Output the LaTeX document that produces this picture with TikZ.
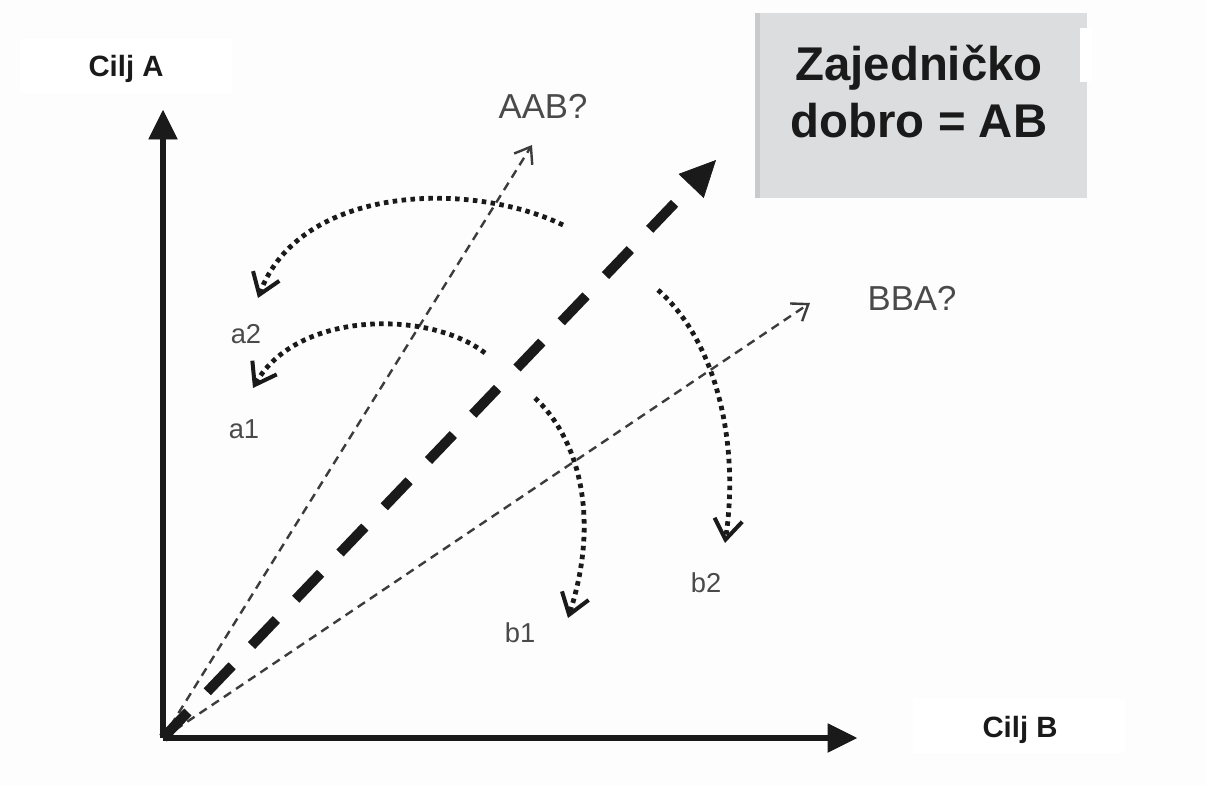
\documentclass[tikz,border=0pt]{standalone}
\usepackage{fontspec}
\setmainfont{Liberation Sans}
\usetikzlibrary{arrows.meta}
\definecolor{bg}{HTML}{FDFDFD}
\definecolor{boxgray}{HTML}{DCDDDF}
\definecolor{boxedge}{HTML}{C9CACC}
\definecolor{ink}{HTML}{1A1A1A}
\definecolor{labgray}{HTML}{4A4A4A}
\tikzset{
  axis/.style={draw=ink, line width=3.8pt, -{Triangle[length=22pt,width=22pt,line width=0.5pt]}},
  mainpath/.style={draw=ink, line width=7.5pt, dash pattern=on 27pt off 21pt, -{Triangle[length=27pt,width=26pt,line width=0.5pt]}},
  thinpath/.style={draw=ink!85, line width=1.8pt, dash pattern=on 6.5pt off 4.5pt, -{Straight Barb[length=11pt,width=16pt]}},
  dotpath/.style={draw=ink, line width=3.6pt, dash pattern=on 3.4pt off 3.3pt, -{Straight Barb[length=15pt,width=21pt,line width=3pt]}},
  goal/.style={font=\bfseries\fontsize{22}{26}\selectfont, text=ink, anchor=base, inner sep=0pt},
  title/.style={font=\bfseries\fontsize{35.5}{42}\selectfont, text=ink, anchor=base, inner sep=0pt},
  ques/.style={font=\fontsize{26}{30}\selectfont, text=labgray, anchor=base, inner sep=0pt},
  lab/.style={font=\fontsize{20.5}{24}\selectfont, text=labgray, anchor=base, inner sep=0pt},
}
\begin{document}
\begin{tikzpicture}[x=0.75pt,y=-0.75pt]
  \useasboundingbox (0,0) rectangle (1206,785);
  \fill[bg] (0,0) rectangle (1206,785);

  % label boxes
  \fill[white] (20,39) rectangle (232,93);
  \fill[white] (913,699) rectangle (1125,753);
  \fill[boxgray] (755,13) rectangle (1087,198);
  \fill[boxedge] (755,13) rectangle (760,198);
  \fill[white] (1080,28) rectangle (1092,82);

  % texts
  \node[goal] (ciljA) at (126,76) {Cilj A};
  \node[goal] (ciljB) at (1020,737) {Cilj B};
  \node[title] (t1) at (919,80) {Zajedničko};
  \node[title] (t2) at (919,137) {dobro = AB};
  \node[ques] (aab) at (543,118) {AAB?};
  \node[ques] (bba) at (912,310) {BBA?};
  \node[lab] (a2) at (246,343) {a2};
  \node[lab] (a1) at (244,438) {a1};
  \node[lab] (b1) at (520,642) {b1};
  \node[lab] (b2) at (706,592) {b2};

  % coordinates
  \coordinate (O) at (163,738);
  \coordinate (Atip) at (163,110);
  \coordinate (Btip) at (857,738);
  \coordinate (ABtip) at (716,160);
  \coordinate (AABtip) at (532,145);
  \coordinate (BBAtip) at (810,303);
  \coordinate (s1) at (563,225);
  \coordinate (e1) at (258,298);
  \coordinate (s2) at (485,353);
  \coordinate (e2) at (253,388);
  \coordinate (s3) at (535,398);
  \coordinate (e3) at (568,618);
  \coordinate (s4) at (658,290);
  \coordinate (e4) at (725,543);

  % thin dashed rays
  \draw[thinpath] (O) -- (AABtip);
  \draw[thinpath] (O) -- (BBAtip);

  % dotted arcs
  \draw[dotpath] (s1) .. controls (470,180) and (300,185) .. (e1);
  \draw[dotpath] (s2) .. controls (430,310) and (297,310) .. (e2);
  \draw[dotpath] (s3) .. controls (580,440) and (600,520) .. (e3);
  \draw[dotpath] (s4) .. controls (715,340) and (740,440) .. (e4);

  % main dashed arrow
  \draw[mainpath] (O) -- (ABtip);

  % axes
  \draw[axis] (O) -- (Atip);
  \draw[axis] (O) -- (Btip);
\end{tikzpicture}
\end{document}
